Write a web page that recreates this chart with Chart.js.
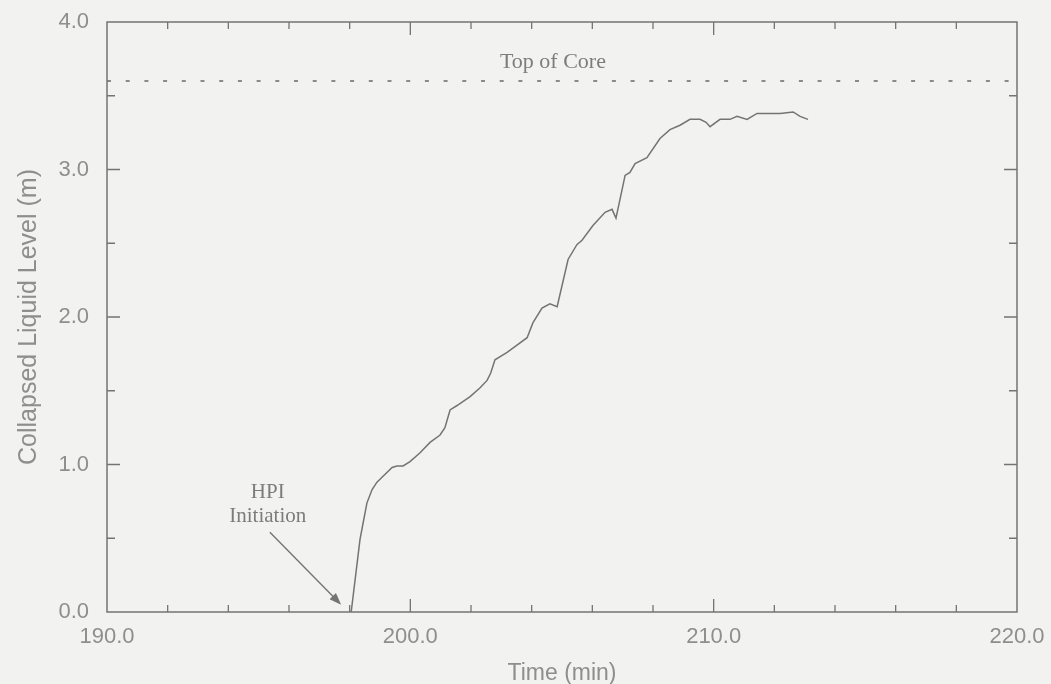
<!DOCTYPE html>
<html>
<head>
<meta charset="utf-8">
<script src="https://cdn.jsdelivr.net/npm/chart.js@4.4.1/dist/chart.umd.min.js"></script>
<style>
  html, body { margin: 0; padding: 0; background: #f2f2f0; }
  #wrap { width: 1051px; height: 684px; }
</style>
</head>
<body>
<div id="wrap"><canvas id="c" width="1051" height="684"></canvas></div>
<script>
// Collapsed liquid level after high-pressure injection starts
const timeMin = [198.05, 198.18, 198.34, 198.44, 198.57, 198.74, 198.90, 199.10, 199.40, 199.56,
  199.76, 199.99, 200.32, 200.65, 200.98, 201.14, 201.31, 201.54, 201.97, 202.30,
  202.53, 202.65, 202.79, 203.19, 203.85, 204.04, 204.34, 204.60, 204.84, 205.20,
  205.49, 205.66, 206.02, 206.42, 206.65, 206.78, 207.08, 207.24, 207.41, 207.80,
  208.23, 208.56, 208.89, 209.22, 209.55, 209.75, 209.88, 210.21, 210.54, 210.77,
  211.10, 211.43, 211.76, 212.19, 212.62, 212.85, 213.11];
const levelM = [0.00, 0.22, 0.49, 0.60, 0.74, 0.83, 0.88, 0.92, 0.98, 0.99,
  0.99, 1.02, 1.08, 1.15, 1.20, 1.25, 1.37, 1.40, 1.46, 1.52,
  1.57, 1.62, 1.71, 1.76, 1.86, 1.96, 2.06, 2.09, 2.07, 2.39,
  2.49, 2.52, 2.62, 2.71, 2.73, 2.67, 2.96, 2.98, 3.04, 3.08,
  3.21, 3.27, 3.30, 3.34, 3.34, 3.32, 3.29, 3.34, 3.34, 3.36,
  3.34, 3.38, 3.38, 3.38, 3.39, 3.36, 3.34];

// Reference line
const topOfCore = 3.6;
const xRange = [190, 220];
const yRange = [0, 4];
const xTickLabels = ['190.0', '200.0', '210.0', '220.0'];
const yTickLabels = ['0.0', '1.0', '2.0', '3.0', '4.0'];

// Annotation anchors (data units)
const hpiText = ['HPI', 'Initiation'];
const hpiTextAt = [195.3, 0.73];
const hpiArrowFrom = [195.37, 0.54];
const hpiArrowTo = [197.72, 0.05];
const coreLabelAt = [204.7, 3.73];

const INK = '#747474';
const TEXT = '#8e8e8e';

const curve = timeMin.map((t, i) => ({ x: t, y: levelM[i] }));
const coreLine = xRange.map(t => ({ x: t, y: topOfCore }));

const framePlugin = {
  id: 'frameAndNotes',
  afterDatasetsDraw(chart) {
    const { ctx, chartArea: a, scales: { x, y } } = chart;
    ctx.save();
    ctx.strokeStyle = INK;
    ctx.lineWidth = 1.5;
    ctx.strokeRect(a.left, a.top, a.right - a.left, a.bottom - a.top);

    // inward ticks on all four sides
    ctx.lineWidth = 1.3;
    ctx.beginPath();
    for (let t = xRange[0] + 2; t < xRange[1]; t += 2) {
      const px = x.getPixelForValue(t);
      const len = (t % 10 === 0) ? 13 : 7;
      ctx.moveTo(px, a.bottom); ctx.lineTo(px, a.bottom - len);
      ctx.moveTo(px, a.top); ctx.lineTo(px, a.top + len);
    }
    for (let v = 0.5; v < yRange[1]; v += 0.5) {
      const py = y.getPixelForValue(v);
      const len = (Math.abs(v - Math.round(v)) < 1e-6) ? 13 : 8;
      ctx.moveTo(a.left, py); ctx.lineTo(a.left + len, py);
      ctx.moveTo(a.right, py); ctx.lineTo(a.right - len, py);
    }
    ctx.stroke();

    // labels
    ctx.fillStyle = '#7c7c7c';
    ctx.textAlign = 'center';
    ctx.textBaseline = 'middle';
    ctx.font = '22px "Liberation Serif", "Times New Roman", serif';
    ctx.fillText('Top of Core', x.getPixelForValue(coreLabelAt[0]), y.getPixelForValue(coreLabelAt[1]));

    ctx.font = '21px "Liberation Serif", "Times New Roman", serif';
    const hx = x.getPixelForValue(hpiTextAt[0]);
    const hy = y.getPixelForValue(hpiTextAt[1]);
    ctx.fillText(hpiText[0], hx, hy - 12);
    ctx.fillText(hpiText[1], hx, hy + 12);

    // arrow
    const x0 = x.getPixelForValue(hpiArrowFrom[0]), y0 = y.getPixelForValue(hpiArrowFrom[1]);
    const x1 = x.getPixelForValue(hpiArrowTo[0]), y1 = y.getPixelForValue(hpiArrowTo[1]);
    const ang = Math.atan2(y1 - y0, x1 - x0);
    ctx.strokeStyle = INK;
    ctx.lineWidth = 1.4;
    ctx.beginPath();
    ctx.moveTo(x0, y0);
    ctx.lineTo(x1 - 8 * Math.cos(ang), y1 - 8 * Math.sin(ang));
    ctx.stroke();
    ctx.fillStyle = INK;
    ctx.beginPath();
    ctx.moveTo(x1, y1);
    ctx.lineTo(x1 - 12 * Math.cos(ang) + 4.5 * Math.sin(ang), y1 - 12 * Math.sin(ang) - 4.5 * Math.cos(ang));
    ctx.lineTo(x1 - 12 * Math.cos(ang) - 4.5 * Math.sin(ang), y1 - 12 * Math.sin(ang) + 4.5 * Math.cos(ang));
    ctx.closePath();
    ctx.fill();
    ctx.restore();
  }
};

new Chart(document.getElementById('c'), {
  type: 'scatter',
  data: {
    datasets: [
      {
        data: curve, showLine: true, borderColor: INK, borderWidth: 1.5,
        pointRadius: 0, tension: 0, fill: false
      },
      {
        data: coreLine, showLine: true, borderColor: '#8a8a8a', borderWidth: 2,
        borderDash: [4, 14.7], pointRadius: 0, fill: false
      }
    ]
  },
  options: {
    responsive: false,
    animation: false,
    events: [],
    layout: { padding: { top: 22, right: 34, left: 0, bottom: 0 } },
    plugins: { legend: { display: false }, tooltip: { enabled: false } },
    scales: {
      x: {
        type: 'linear', min: xRange[0], max: xRange[1],
        afterFit(s) { s.height = 72; s.paddingLeft = 0; s.paddingRight = 0; },
        afterBuildTicks(s) { s.ticks = xTickLabels.map(l => ({ value: parseFloat(l) })); },
        grid: { display: false, drawTicks: false },
        border: { display: false },
        ticks: {
          padding: 12, color: TEXT, maxRotation: 0,
          font: { family: '"Liberation Sans", Arial, sans-serif', size: 22 },
          callback: (v) => xTickLabels.find(l => parseFloat(l) === v) ?? ''
        },
        title: {
          display: true, text: 'Time (min)', color: TEXT, padding: { top: 0, bottom: -3 },
          font: { family: '"Liberation Sans", Arial, sans-serif', size: 23 }
        }
      },
      y: {
        type: 'linear', min: yRange[0], max: yRange[1],
        afterFit(s) { s.width = 107; s.paddingTop = 0; s.paddingBottom = 0; },
        afterBuildTicks(s) { s.ticks = yTickLabels.map(l => ({ value: parseFloat(l) })); },
        grid: { display: false, drawTicks: false },
        border: { display: false },
        ticks: {
          padding: 18, color: TEXT,
          font: { family: '"Liberation Sans", Arial, sans-serif', size: 22 },
          callback: (v) => yTickLabels.find(l => parseFloat(l) === v) ?? ''
        },
        title: {
          display: true, text: 'Collapsed Liquid Level (m)', color: TEXT, padding: { top: 14, bottom: 0 },
          font: { family: '"Liberation Sans", Arial, sans-serif', size: 25 }
        }
      }
    }
  },
  plugins: [framePlugin]
});
</script>
</body>
</html>
